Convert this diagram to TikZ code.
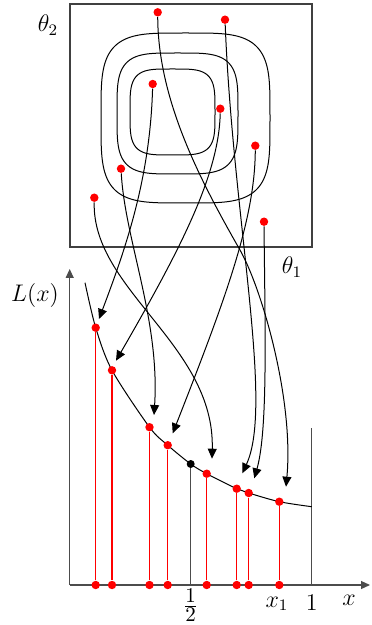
\documentclass[tikz,border=0pt]{standalone}
\usepackage{amsmath}
\usepackage{xcolor}
\usepackage{tikz}
\usetikzlibrary{arrows.meta}

\begin{document}
\begin{tikzpicture}[
  x=0.5pt, y=-0.5pt,
  font=\fontsize{12}{14}\selectfont,
  frame/.style = {draw=black!75, line width=0.6pt},
  lvl/.style   = {draw, line width=0.5pt},
  rdot/.style  = {circle, fill=red, inner sep=0pt, minimum size=4.2pt},
  bdot/.style  = {circle, fill=black, inner sep=0pt, minimum size=4pt},
  arr/.style   = {-{Triangle[length=5pt,width=4.5pt]}, line width=0.5pt},
  ax/.style    = {draw=black!70, line width=0.6pt},
  axarr/.style = {ax, -{Triangle[length=4.5pt,width=4pt]}},
  rline/.style = {draw=red, line width=0.55pt}
]
\useasboundingbox (0,0) rectangle (371,625);

% parameter space
\draw[frame] (70,4) rectangle (312,247);
\draw[lvl] plot[domain=0:360, samples=181]
  ({185.5+84.5*sign(cos(\x))*sqrt(abs(cos(\x)))}, {118+85*sign(sin(\x))*sqrt(abs(sin(\x)))}) -- cycle;
\draw[lvl] plot[domain=0:360, samples=181]
  ({177.5+60.5*sign(cos(\x))*sqrt(abs(cos(\x)))}, {113.5+60.5*sign(sin(\x))*sqrt(abs(sin(\x)))}) -- cycle;
\draw[lvl] plot[domain=0:360, samples=181]
  ({172.5+42.5*sign(cos(\x))*sqrt(abs(cos(\x)))}, {112+43*sign(sin(\x))*sqrt(abs(sin(\x)))}) -- cycle;

\node (th2) at (48,25)  {$\theta_2$};
\node (th1) at (292,267) {$\theta_1$};

\node[rdot] (s1) at (152.7,84)    {};
\node[rdot] (s2) at (220.3,108.7) {};
\node[rdot] (s3) at (121,168.7)   {};
\node[rdot] (s4) at (255.3,145.7) {};
\node[rdot] (s5) at (94.3,197.7)  {};
\node[rdot] (s6) at (225,19.7)    {};
\node[rdot] (s7) at (264,221.7)   {};
\node[rdot] (s8) at (157.7,12.3)  {};

% loss curve
\coordinate (O)      at (69.7,585);
\coordinate (ytip)   at (69.7,269);
\coordinate (xtip)   at (370,585);
\coordinate (one)    at (311.7,585);
\coordinate (onetop) at (311.7,428);
\coordinate (hax)    at (190.7,585);

\draw[axarr] (O) -- (ytip);
\draw[axarr] (O) -- (xtip);
\draw[ax] (one) -- (onetop);
\draw[lvl] plot[smooth, tension=0.5] coordinates {(85,282.7) (95.7,327.7) (112,370.3)
  (149.5,427.2) (167.7,445.2) (190.7,464) (206.7,473.7) (236.7,488.7) (248.7,493)
  (279.3,501.7) (311.7,506.7)};

\node[bdot] (half) at (190.7,464) {};
\draw[ax] (hax) -- (half);

\node[rdot] (p1) at (95.7,327.7)  {};
\node[rdot] (p2) at (112,370.3)   {};
\node[rdot] (p3) at (149.5,427.2) {};
\node[rdot] (p4) at (167.7,445.2) {};
\node[rdot] (p5) at (206.7,473.7) {};
\node[rdot] (p6) at (236.7,488.7) {};
\node[rdot] (p7) at (248.7,493)   {};
\node[rdot] (p8) at (279.3,501.7) {};

\node[rdot] (a1) at (95.7,585)  {};
\node[rdot] (a2) at (112,585)   {};
\node[rdot] (a3) at (149.5,585) {};
\node[rdot] (a4) at (167.7,585) {};
\node[rdot] (a5) at (206.7,585) {};
\node[rdot] (a6) at (236.7,585) {};
\node[rdot] (a7) at (248.7,585) {};
\node[rdot] (a8) at (279.3,585) {};

\draw[rline] (p1) -- (a1);
\draw[rline] (p2) -- (a2);
\draw[rline] (p3) -- (a3);
\draw[rline] (p4) -- (a4);
\draw[rline] (p5) -- (a5);
\draw[rline] (p6) -- (a6);
\draw[rline] (p7) -- (a7);
\draw[rline] (p8) -- (a8);

\node (lx)    at (35,295)    {$L(x)$};
\node (lhalf) at (190.7,605) {$\frac{\text{\fontsize{10.5}{12}\selectfont 1}}{\text{\fontsize{10.5}{12}\selectfont 2}}$};
\node (lx1)   at (277,604)   {$x_1$};
\node (lone)  at (311.7,603) {$1$};
\node (lxax)  at (349,600)   {$x$};

% samples mapped to x
\coordinate (e1) at (99,319);
\coordinate (e2) at (116,360.7);
\coordinate (e3) at (154,415);
\coordinate (e4) at (172.7,433.3);
\coordinate (e5) at (212,458.7);
\coordinate (e6) at (242.3,473.3);
\coordinate (e7) at (254.3,478.3);
\coordinate (e8) at (286,486.7);

\draw[arr] (s1) .. controls (150,180) and (125,250) .. (e1);
\draw[arr] (s2) .. controls (219,175) and (180,250) .. (e2);
\draw[arr] (s3) .. controls (125,240) and (160,320) .. (e3);
\draw[arr] (s4) .. controls (255,220) and (225,300) .. (e4);
\draw[arr] (s5) .. controls (92,290) and (215,345) .. (e5);
\draw[arr] (s6) .. controls (233,220) and (274,405) .. (e6);
\draw[arr] (s7) .. controls (265,330) and (268,430) .. (e7);
\draw[arr] (s8) .. controls (158,100) and (200,180) .. (240,250)
                .. controls (262,289) and (294,400) .. (e8);
\end{tikzpicture}
\end{document}
